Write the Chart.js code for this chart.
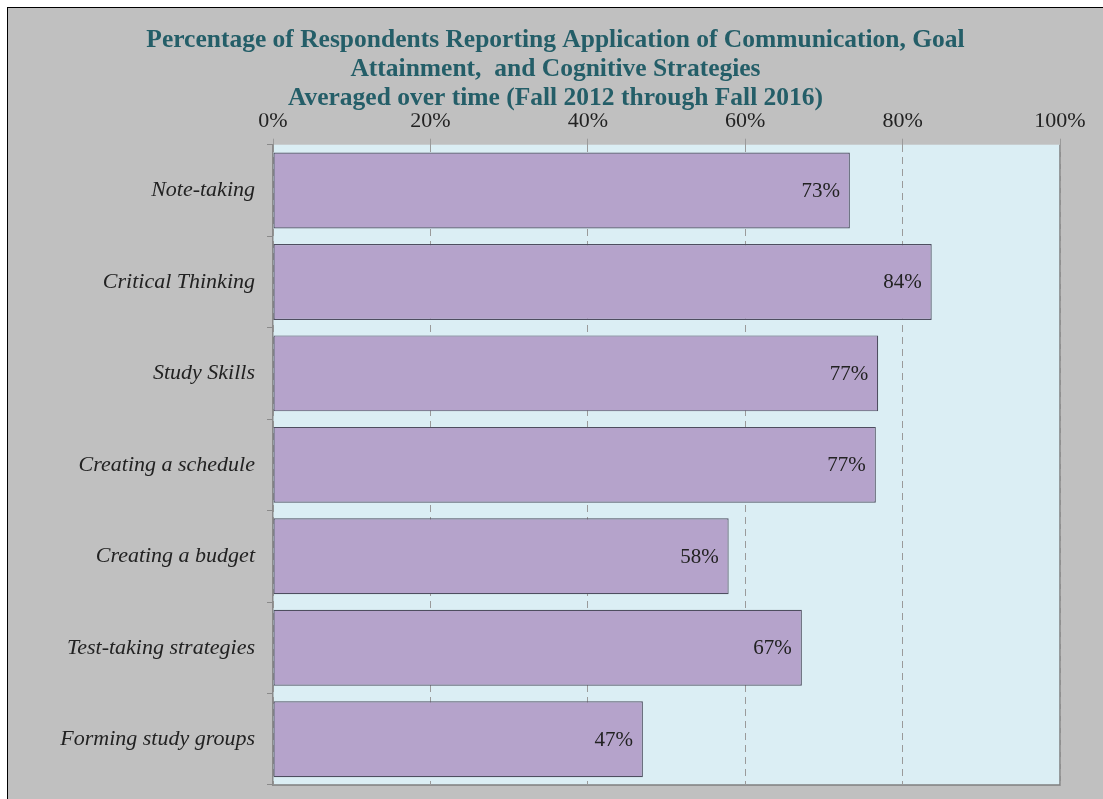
<!DOCTYPE html>
<html>
<head>
<meta charset="utf-8">
<script src="https://cdn.jsdelivr.net/npm/chart.js@4"></script>
<style>
  body { margin: 0; background: #fff; }
  #frame {
    position: absolute; left: 7px; top: 7px;
    width: 1096px; height: 792px;
    border-left: 1px solid #000; border-top: 1px solid #000;
    background: #c0c0c0;
  }
  canvas { display: block; }
</style>
</head>
<body>
<div id="frame"><canvas id="canvas" width="1095" height="791"></canvas></div>
<script>
const categories = [
  "Note-taking",
  "Critical Thinking",
  "Study Skills",
  "Creating a schedule",
  "Creating a budget",
  "Test-taking strategies",
  "Forming study groups"
];
const values = [73.3, 83.7, 76.9, 76.6, 57.9, 67.2, 47.0];
const valueLabels = ["73%", "84%", "77%", "77%", "58%", "67%", "47%"];
const titleLines = [
  "Percentage of Respondents Reporting Application of Communication, Goal",
  "Attainment,  and Cognitive Strategies",
  "Averaged over time (Fall 2012 through Fall 2016)"
];

// fondo del area de trazado y borde
const plotBackground = {
  id: "plotBackground",
  beforeDraw(chart) {
    const { ctx, chartArea: a } = chart;
    ctx.save();
    ctx.fillStyle = "#dbeef4";
    ctx.fillRect(a.left, a.top, a.right - a.left, a.bottom - a.top);
    ctx.strokeStyle = "#7f7f7f";
    ctx.lineWidth = 1.5;
    ctx.beginPath();
    ctx.moveTo(a.right, a.top);
    ctx.lineTo(a.right, a.bottom);
    ctx.lineTo(a.left, a.bottom);
    ctx.stroke();
    ctx.restore();
  }
};

// etiquetas de valor dentro de cada barra
const valueText = {
  id: "valueText",
  afterDatasetsDraw(chart) {
    const { ctx } = chart;
    const meta = chart.getDatasetMeta(0);
    ctx.save();
    ctx.font = "21px 'Liberation Serif'";
    ctx.fillStyle = "#222";
    ctx.textAlign = "right";
    ctx.textBaseline = "middle";
    meta.data.forEach((bar, i) => {
      ctx.fillText(valueLabels[i], bar.x - 10, bar.y + 1);
    });
    ctx.restore();
  }
};

new Chart(document.getElementById("canvas"), {
  type: "bar",
  data: {
    labels: categories,
    datasets: [{
      data: values,
      backgroundColor: "#b5a3cb",
      borderColor: "#4e4e60",
      borderWidth: 1.2,
      borderSkipped: false,
      barPercentage: 0.83,
      categoryPercentage: 1
    }]
  },
  options: {
    indexAxis: "y",
    responsive: false,
    animation: false,
    layout: { padding: { left: 43, right: 43, top: 0, bottom: 14 } },
    plugins: {
      legend: { display: false },
      tooltip: { enabled: false },
      title: {
        display: true,
        text: titleLines,
        color: "#245e68",
        font: { family: "'Liberation Serif'", size: 25.5, weight: "bold", lineHeight: 1.14 },
        padding: { top: 18, bottom: 0 }
      }
    },
    scales: {
      x: {
        position: "top",
        min: 0,
        max: 100,
        afterFit(scale) { scale.height = 31.5; },
        ticks: {
          stepSize: 20,
          callback: (v) => v + "%",
          color: "#222",
          font: { family: "'Liberation Serif'", size: 22 },
          padding: 4
        },
        grid: { color: "#9a9a9a", lineWidth: 1, tickLength: 6 },
        border: { display: false, dash: [7, 5] }
      },
      y: {
        afterFit(scale) {
          scale.width = 222;
          scale.paddingTop = 0;
          scale.paddingBottom = 0;
        },
        ticks: {
          color: "#222",
          font: { family: "'Liberation Serif'", size: 22, style: "italic" },
          padding: 12
        },
        grid: { offset: true, drawOnChartArea: false, tickLength: 6, color: "#8a8a8a" },
        border: { display: true, color: "#8a8a8a", width: 1.5 }
      }
    }
  },
  plugins: [plotBackground, valueText]
});
</script>
</body>
</html>
